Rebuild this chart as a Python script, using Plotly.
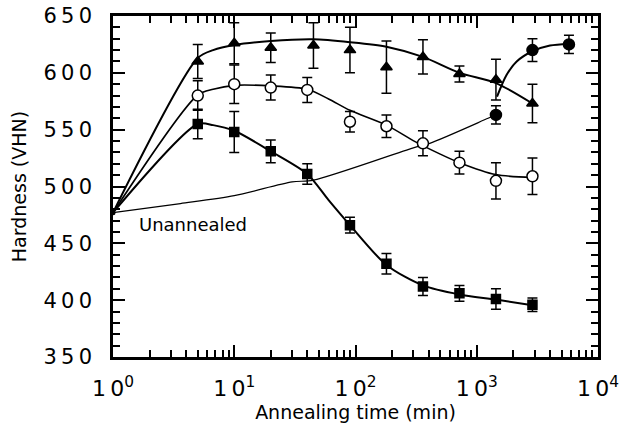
import plotly.graph_objects as go

# ---- data ----
x_tri = [5, 10, 20, 45, 90, 180, 360, 720, 1440, 2880]
y_tri = [610, 626, 622, 624, 620, 605, 614, 599, 594, 573]
e_tri = [15, 18, 13, 20, 20, 23, 15, 7, 18, 17]

x_oc = [5, 10, 20, 40, 90, 180, 360, 720, 1440, 2880]
y_oc = [580, 590, 587, 585, 557, 553, 538, 521, 505, 509]
e_oc = [13, 17, 11, 11, 9, 10, 11, 10, 16, 16]

x_sq = [5, 10, 20, 40, 90, 180, 360, 720, 1440, 2880]
y_sq = [555, 548, 531, 511, 466, 432, 412, 406, 401, 396]
e_sq = [13, 18, 10, 9, 7, 9, 8, 7, 9, 6]

x_fc = [1440, 2880, 5760]
y_fc = [563, 620, 625]
e_fc = [8, 10, 8]

x_un = [1]
y_un = [477]

# fitted curves
cx_tri = [1, 5, 6.7, 10, 20, 45, 90, 180, 360, 720, 1440, 2880]
cy_tri = [477, 613, 620, 624.5, 628, 629.5, 627, 623, 614, 600, 591, 573]

cx_oc = [1, 5, 6.7, 10, 20, 40, 60, 90, 180, 310, 500, 720, 1440, 2880]
cy_oc = [477, 580.5, 585.5, 589, 588.5, 585.5, 577, 567, 554, 539.5, 528.5, 521, 510.5, 508]

cx_sq = [1, 5, 6.7, 10, 20, 40, 60, 90, 180, 360, 720, 1440, 2880]
cy_sq = [477, 555, 554, 549, 531, 511, 488, 466, 431, 413, 405, 400.5, 395.5]

cx_fc1 = [1, 3.6, 10, 30, 45, 300, 410, 1240, 1440]
cy_fc1 = [477, 485, 492, 504, 505.6, 534, 538, 560, 563]

cx_fc2 = [1470, 1760, 2135, 2880, 4020, 5760]
cy_fc2 = [579, 598, 610, 619, 624, 625.4]

y_ticks = [350, 400, 450, 500, 550, 600, 650]
y_ticktext = ["3\u20095\u20090", "4\u20090\u20090", "4\u20095\u20090", "5\u20090\u20090",
              "5\u20095\u20090", "6\u20090\u20090", "6\u20095\u20090"]
x_ticks = [1, 10, 100, 1000, 10000]
x_ticktext = ["1\u20090<sup>0</sup>", "1\u20090<sup>1</sup>", "1\u20090<sup>2</sup>",
              "1\u20090<sup>3</sup>", "1\u20090<sup>4</sup>"]

FONT = "DejaVu Sans"
fig = go.Figure()

def curve(x, y, w):
    fig.add_trace(go.Scatter(x=x, y=y, mode="lines",
                             line=dict(color="black", width=w, shape="spline", smoothing=0.8),
                             hoverinfo="skip", showlegend=False))

curve(cx_fc1, cy_fc1, 1.2)
curve(cx_fc2, cy_fc2, 2)
curve(cx_tri, cy_tri, 2)
curve(cx_oc, cy_oc, 1.6)
curve(cx_sq, cy_sq, 2)

def pts(x, y, e, symbol, size, fill):
    fig.add_trace(go.Scatter(
        x=x, y=y, mode="markers",
        marker=dict(symbol=symbol, size=size, color=fill, line=dict(color="black", width=1.5)),
        error_y=dict(type="data", array=e, visible=True, color="black", thickness=1.5, width=5),
        showlegend=False))

pts(x_tri, y_tri, e_tri, "triangle-up", 10, "black")
pts(x_oc, y_oc, e_oc, "circle", 11, "white")
pts(x_sq, y_sq, e_sq, "square", 9, "black")
pts(x_fc, y_fc, e_fc, "circle", 11, "black")
fig.add_trace(go.Scatter(x=x_un, y=y_un, mode="markers",
                         marker=dict(symbol="circle", size=5, color="black"),
                         showlegend=False, cliponaxis=False))

fig.add_annotation(x=0.2, y=467, xref="x", yref="y", text="Unannealed", showarrow=False,
                   xanchor="left", yanchor="middle", font=dict(family=FONT, size=18, color="black"))

axis_common = dict(showline=True, linecolor="black", linewidth=2.5, mirror="allticks",
                   ticks="inside", ticklen=12, tickwidth=1.5, tickcolor="black",
                   showgrid=False, zeroline=False, automargin=False,
                   ticklabeloverflow="allow")

fig.update_xaxes(type="log", range=[0, 4], tickmode="array", tickvals=x_ticks, ticktext=x_ticktext,
                 minor=dict(ticks="inside", ticklen=7, tickwidth=1.5, tickcolor="black", dtick="D1"),
                 tickfont=dict(family=FONT, size=22, color="black"),
                 title=dict(text="Annealing time (min)", font=dict(family=FONT, size=19, color="black"),
                            standoff=6),
                 ticklabelstandoff=10,
                 **axis_common)
fig.update_yaxes(range=[350, 650], tickmode="array", tickvals=y_ticks, ticktext=y_ticktext,
                 minor=dict(ticks="inside", ticklen=7, tickwidth=1.5, tickcolor="black", dtick=10),
                 tickfont=dict(family=FONT, size=21, color="black"),
                 title=dict(text="Hardness (VHN)", font=dict(family=FONT, size=19, color="black"),
                            standoff=12),
                 ticklabelstandoff=14,
                 **axis_common)

fig.update_layout(width=619, height=425, margin=dict(l=113, r=21, t=16, b=68),
                  paper_bgcolor="white", plot_bgcolor="white", showlegend=False)

fig.write_html("out.html")
